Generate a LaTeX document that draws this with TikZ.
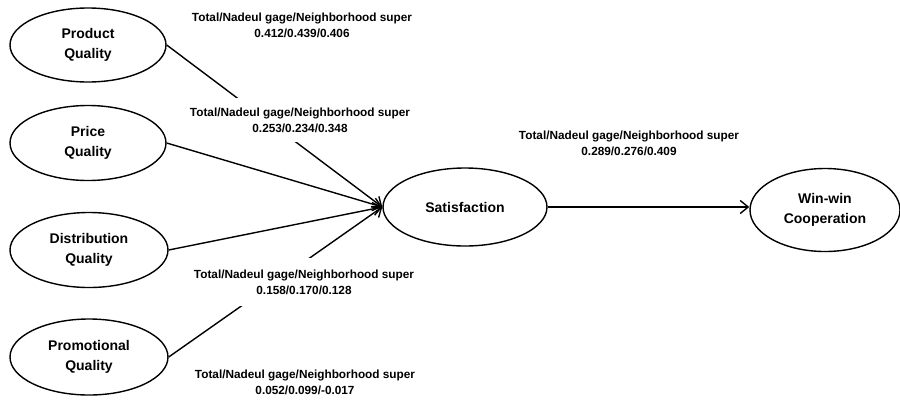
\documentclass[tikz,border=0pt]{standalone}
\usepackage{fontspec}
\setmainfont{Liberation Sans}
\usetikzlibrary{shapes.geometric,arrows.meta}
\begin{document}
\begin{tikzpicture}[x=1pt,y=-1pt,
  ell/.style={draw, ellipse, line width=1.4pt, inner sep=0pt,
    font=\fontsize{14}{20}\selectfont\bfseries, align=center},
  lab/.style={fill=white, inner xsep=2pt, inner ysep=10pt,
    font=\fontsize{11.8}{16}\selectfont\bfseries, align=center},
  conn/.style={line width=1.4pt,
    -{Straight Barb[length=8pt,width=13pt,line width=1.4pt]}}]
\useasboundingbox (0,0) rectangle (900,400);
\node[ell, minimum width=156pt, minimum height=74pt] (prod) at (88,45) {Product\\Quality};
\node[ell, minimum width=156pt, minimum height=75pt] (price) at (88,143) {Price\\Quality};
\node[ell, minimum width=158pt, minimum height=75pt] (dist) at (89,250) {Distribution\\Quality};
\node[ell, minimum width=158pt, minimum height=76pt] (promo) at (89,357) {Promotional\\Quality};
\node[ell, minimum width=164pt, minimum height=78pt] (sat) at (465,207) {Satisfaction};
\node[ell, minimum width=150pt, minimum height=83pt] (win) at (825,210) {Win-win\\Cooperation};

\draw[conn] (prod.east) -- (sat.west);
\draw[conn] (price.east) -- (sat.west);
\draw[conn] (dist.east) -- (sat.west);
\draw[conn] (promo.east) -- (sat.west);
\draw[conn] (sat.east) -- (sat.east -| win.west);

\node[lab] (l1) at (302,25) {Total/Nadeul gage/Neighborhood super\\0.412/0.439/0.406};
\node[lab] (l2) at (300,120) {Total/Nadeul gage/Neighborhood super\\0.253/0.234/0.348};
\node[lab] (l3) at (629,143) {Total/Nadeul gage/Neighborhood super\\0.289/0.276/0.409};
\node[lab, inner ysep=12pt] (l4) at (304,282) {Total/Nadeul gage/Neighborhood super\\0.158/0.170/0.128};
\node[lab] (l5) at (305,382) {Total/Nadeul gage/Neighborhood super\\0.052/0.099/-0.017};
\end{tikzpicture}
\end{document}
